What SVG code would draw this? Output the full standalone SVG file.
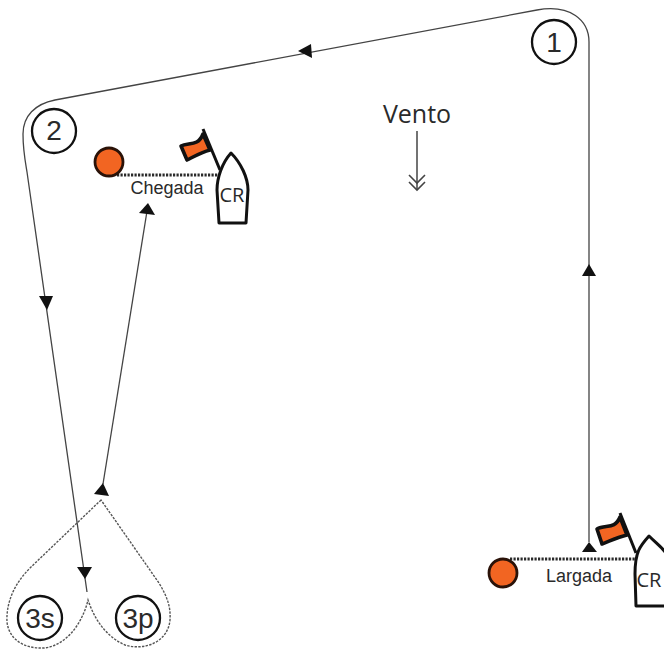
<svg xmlns="http://www.w3.org/2000/svg" width="664" height="653" viewBox="0 0 664 653">
<style>
text{fill:#2a2a2a}
.s{fill:none;stroke:#444;stroke-width:1.3}
.d{fill:none;stroke:#555;stroke-width:1.4;stroke-dasharray:2.4 1.3}
.l{fill:none;stroke:#2a2a2a;stroke-width:2.8;stroke-dasharray:2.2 1.3}
.a{fill:#111;stroke:none}
.c{fill:#fff;stroke:#111;stroke-width:2.3}
.o{font:28px "Liberation Sans",sans-serif;text-anchor:middle}
.n{font:18px "Liberation Sans",sans-serif;text-anchor:middle}
.cr{font:20px "Open Sans",sans-serif;text-anchor:middle}
.m{fill:#f26522;stroke:#2a1208;stroke-width:2.8}
.f{fill:#f26522;stroke:#111;stroke-width:3.6;stroke-linejoin:round}
.b{fill:#fff;stroke:#111;stroke-width:3;stroke-linejoin:round}
.p{fill:none;stroke:#111;stroke-width:3}
</style>
<g id="connectors">
<path class="s" d="M589 542V42C589 20 570 4 537 10L55 100C35 104 23 116 23 134C23 150 25 160 27 172L87 592"/>
<path class="s" d="M103 484L148 205"/>
<path class="d" d="M101 500L30 568C14 584 6 603 7 622C9 640 25 649 44 648C65 646 82 625 88 600C94 618 105 636 125 645C145 651 168 642 170 620C171 605 166 595 159 583Z"/>
<path class="l" d="M117 175H218"/>
<path class="l" d="M510 559H636"/>
<path d="M417 131V190" fill="none" stroke="#444" stroke-width="1.5"/>
<path d="M409 175L417 183L425 175M409 182L417 190L425 182" fill="none" stroke="#444" stroke-width="1.6"/>
<polygon class="a" points="298,51 311,44 312,58"/>
<polygon class="a" points="582,276 596,276 589,264"/>
<polygon class="a" points="39,296 53,296 47,310"/>
<polygon class="a" points="139,213 155,215 148,203"/>
<polygon class="a" points="94,494 109,496 103,483"/>
<polygon class="a" points="77,567 92,567 85,579"/>
<polygon class="a" points="582,552 597,552 589,542"/>
</g>
<g id="mark-1"><circle class="c" cx="554" cy="42" r="22"/><text class="o" x="554" y="52">1</text></g>
<g id="mark-2"><circle class="c" cx="54" cy="131" r="22"/><text class="o" x="54" y="140">2</text></g>
<g id="mark-3s"><circle class="c" cx="40" cy="618" r="22"/><text class="o" x="40" y="628">3s</text></g>
<g id="mark-3p"><circle class="c" cx="138" cy="618" r="22"/><text class="o" x="138" y="628">3p</text></g>
<g id="wind"><text x="417" y="123" style="font:25px 'Open Sans',sans-serif;text-anchor:middle">Vento</text></g>
<g id="finish">
<circle class="m" cx="109" cy="162" r="14"/>
<path class="p" d="M203 129L220 170"/>
<path class="f" d="M203 134L210 150C202 152 195 156 187 160L181 146C188 142 198 147 203 134Z"/>
<path class="b" d="M231 153C222 163 217 178 217 190L219 223H246L248 190C248 178 241 163 231 153Z"/>
<text class="cr" x="232" y="202">CR</text>
<text class="n" x="167" y="194">Chegada</text>
</g>
<g id="start">
<circle class="m" cx="503" cy="573" r="14"/>
<path class="p" d="M620 513L636 553"/>
<path class="f" d="M620 517L627 535C618 537 610 541 602 544L597 529C605 524 615 530 620 517Z"/>
<path class="b" d="M649 536C640 546 635 552 635 574L636 606H670V560C668 552 658 545 649 536Z"/>
<text class="cr" x="649" y="587">CR</text>
<text class="n" x="579" y="582">Largada</text>
</g>
</svg>
